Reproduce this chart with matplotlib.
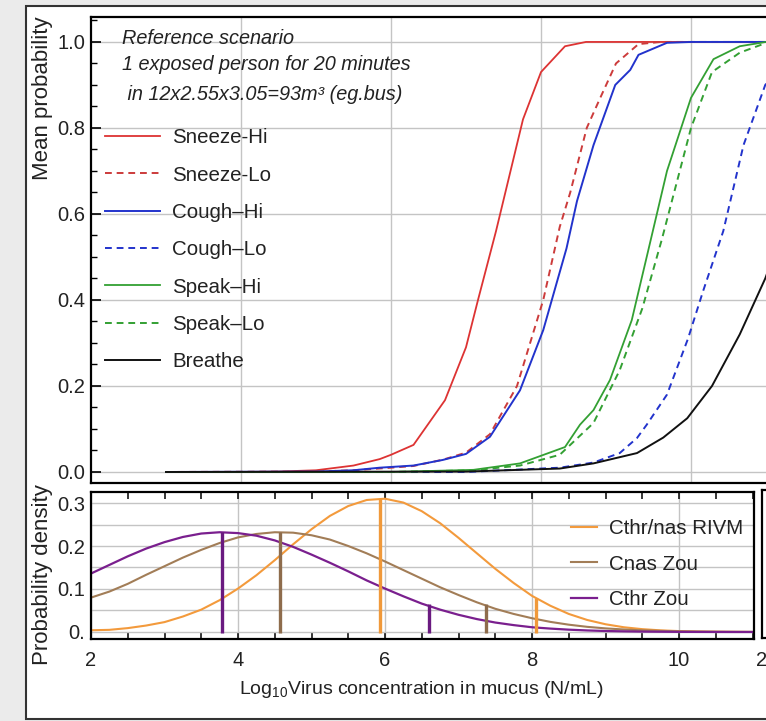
import numpy as np
import matplotlib
matplotlib.use("Agg")
import matplotlib.pyplot as plt
from matplotlib.patches import Rectangle
from matplotlib.ticker import MultipleLocator

plt.rcParams['font.family'] = ['Liberation Sans', 'DejaVu Sans']
plt.rcParams['mathtext.fontset'] = 'custom'
plt.rcParams['mathtext.rm'] = 'Liberation Sans'
plt.rcParams['mathtext.it'] = 'Liberation Sans:italic'

# --- top panel: mean infection probability vs log10 virus concentration ---
sneeze_hi_x = [3, 4, 4.5, 5, 5.5, 5.85, 6.0, 6.3, 6.72, 7.0, 7.16, 7.4, 7.76, 8.0, 8.32, 8.6, 9, 10, 11, 12]
sneeze_hi_y = [0, 0, 0.001, 0.004, 0.015, 0.03, 0.04, 0.063, 0.167, 0.29, 0.40, 0.56, 0.82, 0.93, 0.99, 1.0, 1.0, 1.0, 1.0, 1.0]

sneeze_lo_x = [3, 5, 5.5, 6, 6.3, 6.7, 7.0, 7.32, 7.68, 8.03, 8.25, 8.39, 8.61, 8.79, 9.0, 9.3, 9.6, 10, 11, 12]
sneeze_lo_y = [0, 0.001, 0.004, 0.01, 0.014, 0.029, 0.045, 0.088, 0.2, 0.40, 0.57, 0.65, 0.80, 0.87, 0.95, 0.995, 1.0, 1.0, 1.0, 1.0]

cough_hi_x = [3, 5, 5.5, 5.85, 6.3, 6.69, 7.0, 7.32, 7.72, 8.03, 8.34, 8.48, 8.7, 8.99, 9.19, 9.3, 9.68, 10, 11, 12]
cough_hi_y = [0, 0.001, 0.004, 0.01, 0.015, 0.028, 0.042, 0.082, 0.19, 0.33, 0.52, 0.63, 0.76, 0.90, 0.935, 0.97, 0.998, 1.0, 1.0, 1.0]

cough_lo_x = [3, 7, 8.25, 8.7, 9.05, 9.28, 9.41, 9.68, 9.96, 10.16, 10.43, 10.7, 10.99, 11.3, 11.6, 12]
cough_lo_y = [0, 0, 0.01, 0.022, 0.044, 0.079, 0.11, 0.18, 0.31, 0.42, 0.56, 0.76, 0.90, 0.97, 0.995, 1.0]

speak_hi_x = [3, 6, 7.1, 7.72, 8.32, 8.52, 8.7, 8.92, 9.21, 9.45, 9.68, 10.0, 10.3, 10.65, 11.0, 11.5, 12]
speak_hi_y = [0, 0, 0.005, 0.02, 0.058, 0.11, 0.144, 0.214, 0.353, 0.53, 0.70, 0.87, 0.96, 0.99, 1.0, 1.0, 1.0]

speak_lo_x = [3, 6, 7.1, 7.72, 8.25, 8.7, 9.05, 9.35, 9.61, 10.0, 10.28, 10.65, 10.96, 11.5, 12]
speak_lo_y = [0, 0, 0.004, 0.015, 0.04, 0.114, 0.237, 0.38, 0.54, 0.80, 0.93, 0.975, 0.995, 1.0, 1.0]

breathe_x = [3, 7, 8.25, 8.7, 9.28, 9.63, 9.95, 10.28, 10.65, 10.99, 11.3, 11.6, 12]
breathe_y = [0, 0.001, 0.008, 0.02, 0.044, 0.08, 0.125, 0.20, 0.32, 0.45, 0.6, 0.75, 0.87]

# --- bottom panel: probability densities of virus concentration ---
dens_x = [2, 2.25, 2.5, 2.75, 3, 3.25, 3.5, 3.75, 4, 4.25, 4.5, 4.75, 5, 5.25, 5.5, 5.75, 6, 6.25, 6.5,
          6.75, 7, 7.25, 7.5, 7.75, 8, 8.25, 8.5, 8.75, 9, 9.25, 9.5, 9.75, 10, 10.25, 10.5, 10.75, 11]
rivm_y = [0.004, 0.005, 0.009, 0.015, 0.023, 0.036, 0.052, 0.074, 0.101, 0.132, 0.167, 0.204, 0.239,
          0.270, 0.293, 0.307, 0.310, 0.301, 0.281, 0.253, 0.219, 0.183, 0.147, 0.114, 0.084, 0.061,
          0.042, 0.028, 0.018, 0.011, 0.0066, 0.0038, 0.0021, 0.0011, 0.0006, 0.0003, 0.0001]
cnas_y = [0.080, 0.094, 0.112, 0.133, 0.153, 0.173, 0.191, 0.207, 0.220, 0.228, 0.232, 0.231, 0.225,
          0.215, 0.200, 0.183, 0.164, 0.144, 0.124, 0.104, 0.086, 0.069, 0.054, 0.042, 0.032, 0.0235,
          0.017, 0.012, 0.0084, 0.0058, 0.0038, 0.0025, 0.0016, 0.001, 0.0006, 0.0004, 0.0002]
cthr_y = [0.136, 0.156, 0.176, 0.194, 0.209, 0.221, 0.229, 0.232, 0.230, 0.224, 0.213, 0.198, 0.180,
          0.161, 0.141, 0.120, 0.101, 0.083, 0.066, 0.052, 0.040, 0.030, 0.022, 0.016, 0.011, 0.0079,
          0.0054, 0.0036, 0.0023, 0.0015, 0.0009, 0.0006, 0.0003, 0.0002, 0.0001, 0.0, 0.0]

# median and 95th percentile markers (position, height)
rivm_marks = [(5.93, 0.31), (8.05, 0.08)]
cnas_marks = [(4.57, 0.232), (7.37, 0.064)]
cthr_marks = [(3.78, 0.232), (6.6, 0.064)]

W, H = 766, 721
fig = plt.figure(figsize=(W / 100, H / 100), dpi=100)
fig.patch.set_facecolor('#ebebeb')
fig.patches.append(Rectangle((26 / W, 1 - 719 / H), 1.2, (719 - 6) / H, transform=fig.transFigure,
                             fc='white', ec='#333333', lw=1.5, zorder=-5))

red, blue, green = '#dd3333', '#2233cc', '#33a033'
orange, brown, purple = '#f39a3c', '#a27d57', '#7a1f8e'
txt_col = '#222222'

# top axes (extends past the right edge of the picture, as in the cropped original)
ax1 = fig.add_axes([91 / W, 1 - 483 / H, 750 / W, (483 - 17) / H])
ax1.plot(sneeze_hi_x, sneeze_hi_y, color=red, lw=1.3, label='Sneeze-Hi')
ax1.plot(sneeze_lo_x, sneeze_lo_y, color='#cc3b3b', lw=1.4, dashes=(3.5, 2.5), label='Sneeze-Lo')
ax1.plot(cough_hi_x, cough_hi_y, color=blue, lw=1.4, label='Cough\u2013Hi')
ax1.plot(cough_lo_x, cough_lo_y, color=blue, lw=1.4, dashes=(3.5, 2.5), label='Cough\u2013Lo')
ax1.plot(speak_hi_x, speak_hi_y, color=green, lw=1.3, label='Speak\u2013Hi')
ax1.plot(speak_lo_x, speak_lo_y, color=green, lw=1.4, dashes=(3.5, 2.5), label='Speak\u2013Lo')
ax1.plot(breathe_x, breathe_y, color='#111111', lw=1.4, label='Breathe')

ax1.set_xlim(2, 12)
ax1.set_ylim(-0.0256, 1.058)
ax1.set_xticks([4, 6, 8, 10])
ax1.set_xticklabels([])
ax1.tick_params(axis='x', length=0)
ax1.set_yticks([0, 0.2, 0.4, 0.6, 0.8, 1.0])
ax1.set_yticklabels(['0.0', '0.2', '0.4', '0.6', '0.8', '1.0'])
ax1.yaxis.set_minor_locator(MultipleLocator(0.05))
ax1.tick_params(axis='y', which='major', direction='in', length=7, width=1.2, labelsize=14.5, pad=4,
                labelcolor=txt_col)
ax1.tick_params(axis='y', which='minor', direction='in', length=4, width=1.0)
ax1.grid(True, color='#c4c4c4', lw=1.0)
ax1.set_axisbelow(True)
for s in ax1.spines.values():
    s.set_linewidth(1.6)

ax1.legend(loc='upper left', bbox_to_anchor=(0.0187, 0.761), frameon=False, fontsize=14.8,
           handlelength=2.68, handletextpad=0.58, labelspacing=0.89, borderpad=0, borderaxespad=0,
           labelcolor=txt_col)

header = ['Reference scenario', '1 exposed person for 20 minutes', ' in 12x2.55x3.05=93m\u00b3 (eg.bus)']
header_y = [38, 65, 95]
for txt, py in zip(header, header_y):
    ax1.text(31 / 750, (483 - py) / 466, txt, transform=ax1.transAxes, fontsize=14.3,
             style='italic', va='center', ha='left', color=txt_col)

# bottom axes
ax2 = fig.add_axes([91 / W, 1 - 639 / H, 663 / W, (639 - 492) / H])
ax2.plot(dens_x, rivm_y, color=orange, lw=1.5, label='Cthr/nas RIVM')
ax2.plot(dens_x, cnas_y, color=brown, lw=1.5, label='Cnas Zou')
ax2.plot(dens_x, cthr_y, color=purple, lw=1.6, label='Cthr Zou')
for marks, c in [(rivm_marks, '#f0993a'), (cnas_marks, '#8e6c4c'), (cthr_marks, '#6a1a80')]:
    for xm, hm in marks:
        ax2.vlines(xm, -0.003, hm, color=c, lw=2.4)

ax2.set_xlim(2, 11.02)
ax2.set_ylim(-0.0163, 0.3256)
ax2.set_xticks([2, 4, 6, 8, 10])
ax2.xaxis.set_minor_locator(MultipleLocator(0.5))
ax2.set_yticks([0, 0.05, 0.1, 0.15, 0.2, 0.25, 0.3])
ax2.set_yticklabels(['0.', '', '0.1', '', '0.2', '', '0.3'])
ax2.tick_params(axis='x', which='both', direction='in', top=True, length=5, width=1.1,
                labelsize=14.5, pad=9, labelcolor=txt_col)
ax2.tick_params(axis='y', which='major', direction='in', length=0, labelsize=14.5, pad=4,
                labelcolor=txt_col)
ax2.grid(True, which='major', color='#c4c4c4', lw=1.0)
ax2.set_axisbelow(True)
for s in ax2.spines.values():
    s.set_linewidth(1.6)
ax2.legend(loc='upper left', bbox_to_anchor=(0.724, 0.815), frameon=False, fontsize=14.8,
           handlelength=1.27, handletextpad=0.58, labelspacing=0.8, borderpad=0, borderaxespad=0,
           labelcolor=txt_col)

# neighbouring panel, only its left edge is visible
ax3 = fig.add_axes([762 / W, 1 - 638 / H, 0.2, (638 - 490) / H])
ax3.set_xlim(2, 12)
ax3.set_xticks([2])
ax3.set_yticks([])
ax3.tick_params(axis='x', direction='in', length=0, labelsize=14.5, pad=9, labelcolor=txt_col)
for s in ax3.spines.values():
    s.set_linewidth(1.6)

fig.text(43 / W, 1 - 98 / H, 'Mean probability', rotation=90, ha='center', va='center',
         fontsize=16, color=txt_col)
fig.text(43 / W, 1 - 575 / H, 'Probability density', rotation=90, ha='center', va='center',
         fontsize=16, color=txt_col)
fig.text(421 / W, 1 - 690 / H, r'Log$_{10}$Virus concentration in mucus (N/mL)', ha='center',
         va='center', fontsize=14, color=txt_col)

fig.savefig('out.png', dpi=100, facecolor=fig.get_facecolor())
